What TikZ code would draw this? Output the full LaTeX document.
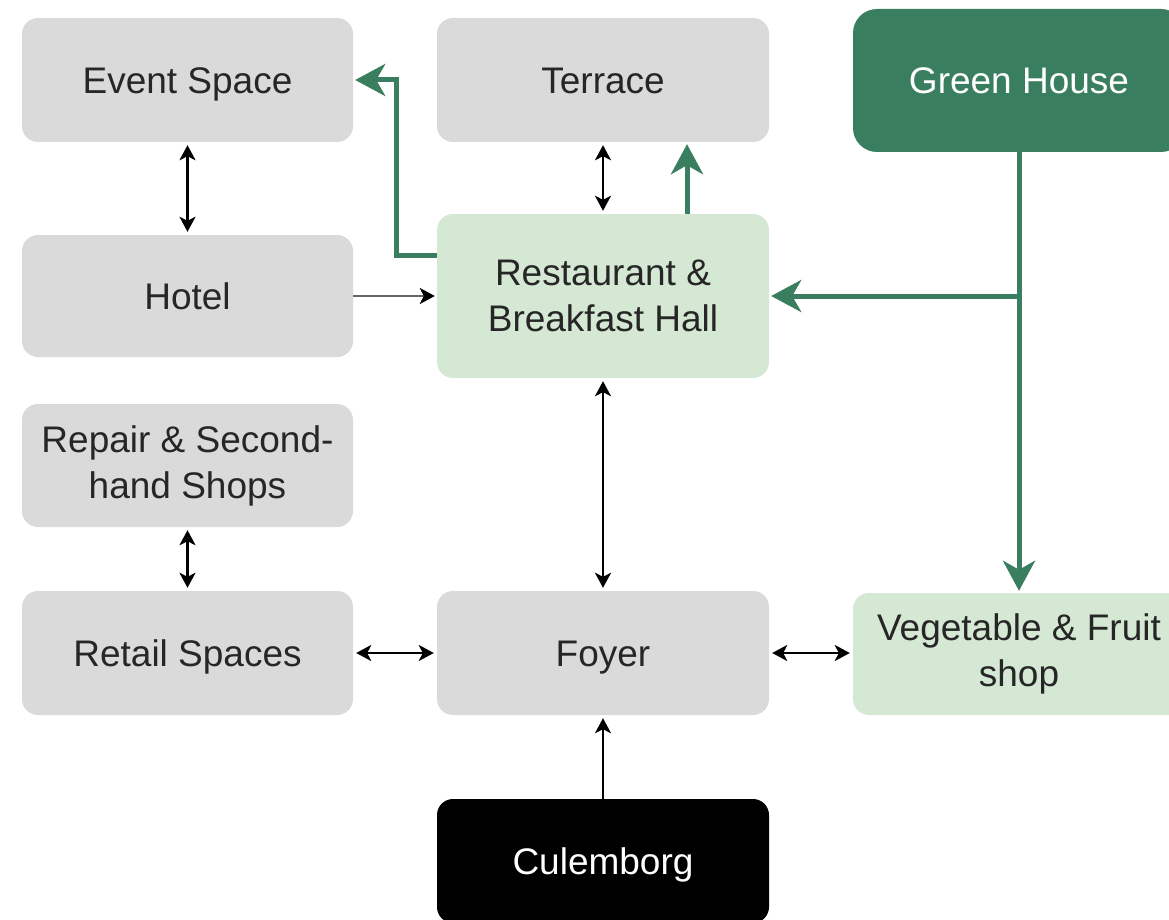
\documentclass[tikz,border=0pt]{standalone}
\usepackage{fontspec}
\setmainfont{Liberation Sans}
\usetikzlibrary{arrows.meta}
\definecolor{boxgray}{HTML}{DADADA}
\definecolor{boxmint}{HTML}{D5E8D4}
\definecolor{forest}{HTML}{3A7E60}
\definecolor{inkgray}{HTML}{262626}
\begin{document}
\begin{tikzpicture}[x=1pt,y=-1pt,
  room/.style={rectangle, rounded corners=16pt, fill=boxgray, text=inkgray,
    minimum width=332pt, minimum height=124pt, align=center,
    font=\fontsize{37}{46}\selectfont, inner sep=0pt},
  oneline/.style={text height=26.5pt, text depth=0pt},
  mint/.style={room, fill=boxmint},
  darkroom/.style={room, oneline, text=white},
  link/.style={draw=black, line width=2.4pt,
    {Stealth[length=15pt,width=16pt,inset=4pt]}-{Stealth[length=15pt,width=16pt,inset=4pt]},
    shorten <=3pt, shorten >=3pt},
  oneway/.style={draw=black, line width=2.2pt,
    -{Stealth[length=15pt,width=16pt,inset=4pt]}, shorten >=3pt},
  feed/.style={draw=forest, line width=5pt,
    -{Stealth[length=30pt,width=32pt,inset=9pt]}, shorten >=2pt},
  thinfeed/.style={draw=black!60, line width=2.4pt,
    -{Stealth[length=15pt,width=16pt,inset=4pt,color=black]}, shorten >=2pt}
]
\clip (0,0) rectangle (1169,920);
\fill[white] (0,0) rectangle (1169,920);

% rooms
\node[room, oneline] (ev)  at (187.5,80)  [minimum width=331pt] {Event Space};
\node[room, oneline] (ter) at (603,80) {Terrace};
\node[darkroom, fill=forest, rounded corners=24pt, minimum height=143pt] (gh) at (1019,80.5) {Green House};
\node[room, oneline] (hot) at (187.5,296) [minimum width=331pt, minimum height=122pt] {Hotel};
\node[mint, minimum height=164pt] (rest) at (603,296) {Restaurant \&\\Breakfast Hall};
\node[room] (rep) at (187.5,465.5) [minimum width=331pt, minimum height=123pt] {Repair \& Second-\\hand Shops};
\node[room, oneline] (ret) at (187.5,653) [minimum width=331pt] {Retail Spaces};
\node[room, oneline] (foy) at (603,653) {Foyer};
\node[mint, minimum height=122pt] (veg) at (1019,654) {Vegetable \& Fruit\\shop};
\node[darkroom, fill=black] (cul) at (603,861) {Culemborg};

% two-way routes
\draw[link] (ev.south) -- (hot.north);
\draw[link] (ter.south) -- (rest.north);
\draw[link] (rest.south) -- (foy.north);
\draw[link] (rep.south) -- (ret.north);
\draw[link] (ret.east) -- (foy.west);
\draw[link] (foy.east) -- (foy.east -| veg.west);

% one-way routes
\draw[oneway] (cul.north) -- (foy.south);
\draw[thinfeed] (hot.east) -- (rest.west);

% produce routes
\draw[feed] ([xshift=84pt]rest.north) -- ([xshift=84pt]ter.south);
\draw[feed] ([yshift=41pt]rest.west) -- ++(-40,0) |- (ev.east);
\draw[feed] (gh.south) |- (rest.east);
\draw[feed] (gh.south) -- (veg.north);
\end{tikzpicture}
\end{document}
